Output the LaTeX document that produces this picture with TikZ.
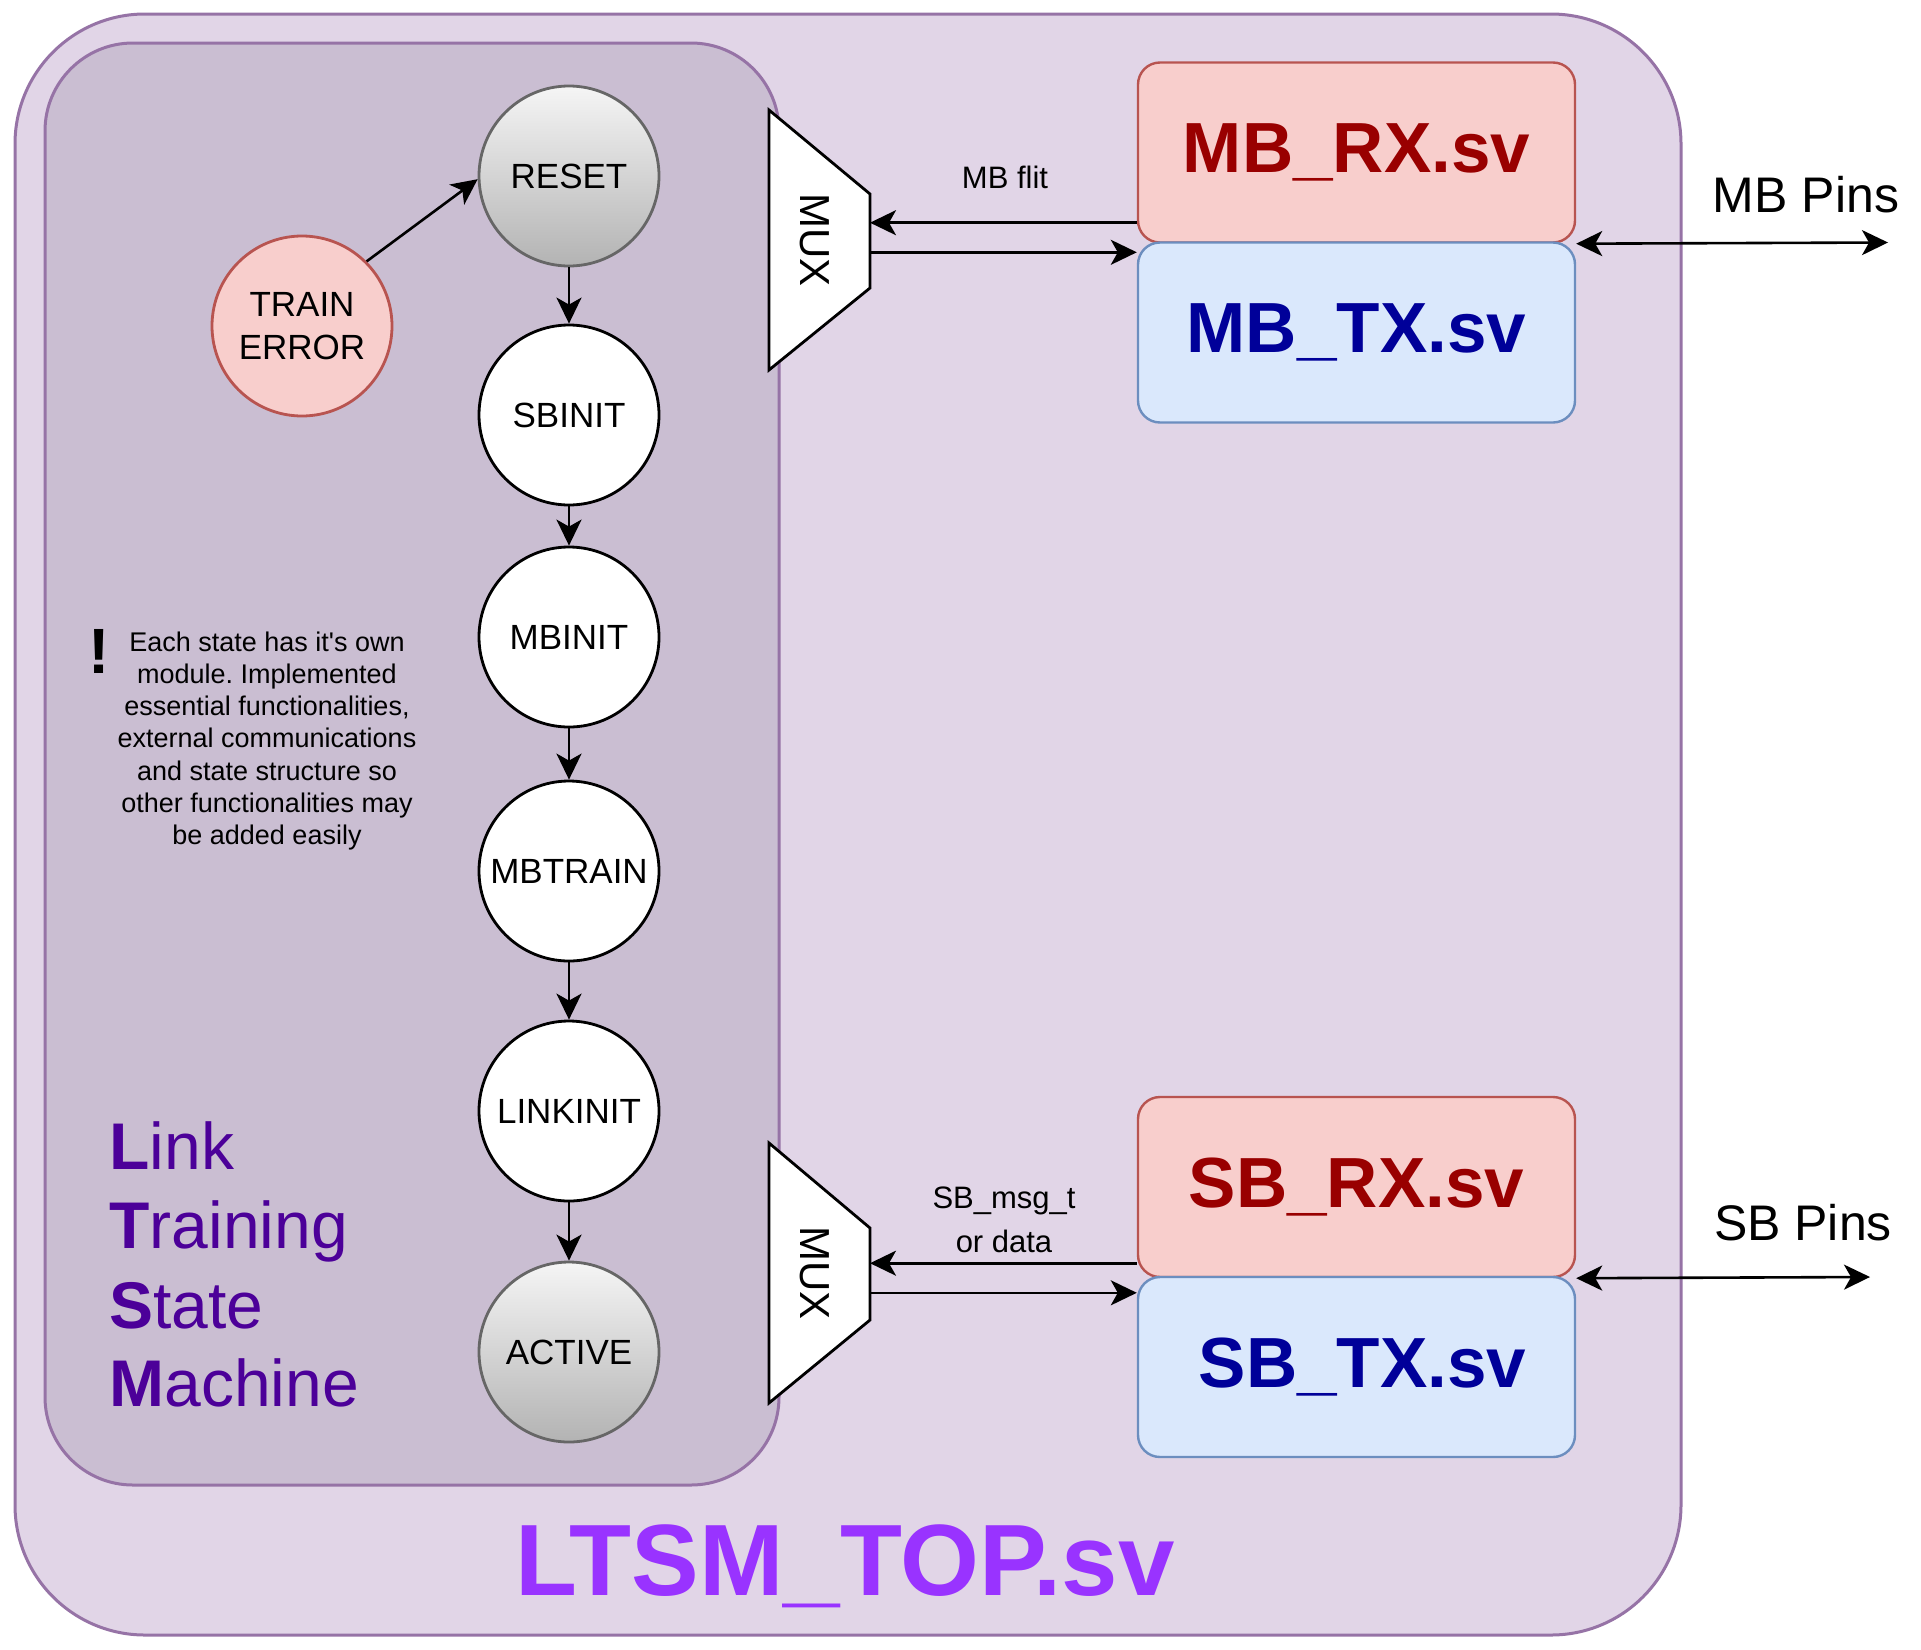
\documentclass[tikz,border=0pt]{standalone}
\usepackage{fontspec}
\setmainfont{Liberation Sans}[Ligatures=TeXOff]
\usetikzlibrary{arrows.meta,shapes.geometric}
\definecolor{outerfill}{HTML}{E1D5E7}
\definecolor{outerdraw}{HTML}{9673A6}
\definecolor{innerfill}{RGB}{202,190,210}
\definecolor{redfill}{HTML}{F8CECC}
\definecolor{reddraw}{HTML}{B85450}
\definecolor{bluefill}{HTML}{DAE8FC}
\definecolor{bluedraw}{HTML}{6C8EBF}
\definecolor{rxtext}{HTML}{990000}
\definecolor{txtext}{HTML}{000099}
\definecolor{ltsc}{HTML}{4C0099}
\definecolor{topc}{HTML}{9933FF}
\definecolor{gtop}{HTML}{F5F5F5}
\definecolor{gbot}{HTML}{B3B3B3}
\definecolor{gdraw}{HTML}{666666}
\frenchspacing
\begin{document}
\begin{tikzpicture}[x=0.5pt,y=-0.5pt,
  state/.style={circle,draw=black,line width=1.4pt,fill=white,minimum size=90pt,inner sep=0pt,
    font=\fontsize{17.5}{21.5}\selectfont,align=center},
  gstate/.style={state,draw=gdraw,top color=gtop,bottom color=gbot},
  estate/.style={state,draw=reddraw,fill=redfill},
  rxbox/.style={rectangle,rounded corners=11pt,draw=reddraw,fill=redfill,line width=1.2pt,
    minimum width=218.5pt,minimum height=90pt,inner sep=0pt,text=rxtext,
    font=\fontsize{35.5}{40}\bfseries},
  txbox/.style={rxbox,draw=bluedraw,fill=bluefill,text=txtext},
  tip/.tip={Stealth[length=13pt,width=12.5pt,inset=3.5pt]},
  arr/.style={line width=1.3pt,-tip},
  dblarr/.style={line width=1.3pt,tip-tip},
  muxshape/.style={draw=black,fill=white,line width=1.4pt,line join=miter},
  muxlabel/.style={rotate=-90,font=\fontsize{21}{25}\selectfont,inner sep=0pt},
  small/.style={font=\fontsize{15.5}{22}\selectfont,align=center,inner sep=0pt},
  pins/.style={font=\fontsize{25}{30}\selectfont,anchor=base,inner sep=0pt},
  ltsline/.style={anchor=base west,inner sep=0pt,text=ltsc,font=\fontsize{33}{39}\selectfont},
]
\useasboundingbox (0,0) rectangle (1921,1649);
% containers
\draw[fill=outerfill,draw=outerdraw,line width=1.5pt,rounded corners=65pt] (15,14) rectangle (1681,1635);
\draw[fill=innerfill,draw=outerdraw,line width=1.5pt,rounded corners=44pt] (45,43) rectangle (779,1485);

% states
\node[gstate] (reset) at (569,176) {RESET};
\node[state] (sbinit) at (569,415) {SBINIT};
\node[state] (mbinit) at (569,637) {MBINIT};
\node[state] (mbtrain) at (569,871) {MBTRAIN};
\node[state] (linkinit) at (569,1111) {LINKINIT};
\node[gstate] (active) at (569,1352) {ACTIVE};
\node[estate] (terr) at (302,326) {TRAIN\\ERROR};

\draw[arr] (terr.45) -- (reset.182);
\draw[arr] (reset) -- (sbinit);
\draw[arr] (sbinit) -- (mbinit);
\draw[arr] (mbinit) -- (mbtrain);
\draw[arr] (mbtrain) -- (linkinit);
\draw[arr] (linkinit) -- (active);

% note
\node[font=\fontsize{32}{36}\bfseries,inner sep=0pt] (bang) at (99,651) {!};
\node[font=\fontsize{13.5}{16.1}\selectfont,align=center,inner sep=0pt] (note) at (267,741)
  {Each state has it's own\\module. Implemented\\essential functionalities,\\external communications\\and state structure so\\other functionalities may\\be added easily};

% LTSM title
\node[ltsline] (l1) at (109,1169) {\bfseries L\mdseries ink};
\node[ltsline] (l2) at (109,1248) {\bfseries T\mdseries raining};
\node[ltsline] (l3) at (109,1328) {\bfseries S\mdseries tate};
\node[ltsline] (l4) at (109,1406) {\bfseries M\mdseries achine};

% MUXes
\draw[muxshape] (769,110) -- (870,194) -- (870,288) -- (769,370) -- cycle;
\node[muxlabel] (muxA) at (815,240) {MUX};
\coordinate (muxAr) at (870,240);
\draw[muxshape] (769,1143) -- (870,1228) -- (870,1320) -- (769,1403) -- cycle;
\node[muxlabel] (muxB) at (815,1273) {MUX};
\coordinate (muxBr) at (870,1273);

% boxes
\node[rxbox] (mbrx) at (1356.5,152.5) {MB\_RX.sv};
\node[txbox] (mbtx) at (1356.5,332.5) {MB\_TX.sv};
\node[rxbox] (sbrx) at (1356.5,1187) {SB\_RX.sv};
\node[txbox] (sbtx) at (1356.5,1367) {\hspace*{6pt}SB\_TX.sv};

% MB connections
\coordinate (a1) at ([yshift=10.5pt]mbrx.south west);
\draw[arr] (a1) -- (a1 -| muxAr);
\coordinate (a2) at ([yshift=-5.5pt]mbtx.north west);
\draw[arr] (a2 -| muxAr) -- (a2);
\node[small] (mbflit) at (1005,177) {MB flit};

% SB connections
\coordinate (b1) at ([yshift=7.5pt]sbrx.south west);
\draw[arr] (b1) -- (b1 -| muxBr);
\coordinate (b2) at ([yshift=-8.5pt]sbtx.north west);
\draw[arr] (b2 -| muxBr) -- (b2);
\node[small] (sbmsg) at (1004,1220) {SB\_msg\_t\\or data};

% pins
\coordinate (mbpin) at (1888,242.5);
\draw[dblarr] (mbrx.south east) -- (mbpin);
\node[pins] (mbpins) at (1806,212) {MB Pins};
\coordinate (sbpin) at (1870,1277);
\draw[dblarr] (sbrx.south east) -- (sbpin);
\node[pins] (sbpinsl) at (1803,1240) {SB Pins};

% top title
\node[anchor=base,inner sep=0pt,text=topc,font=\fontsize{50.7}{60}\bfseries] (top) at (845,1595) {LTSM\_TOP.sv};
\end{tikzpicture}
\end{document}
